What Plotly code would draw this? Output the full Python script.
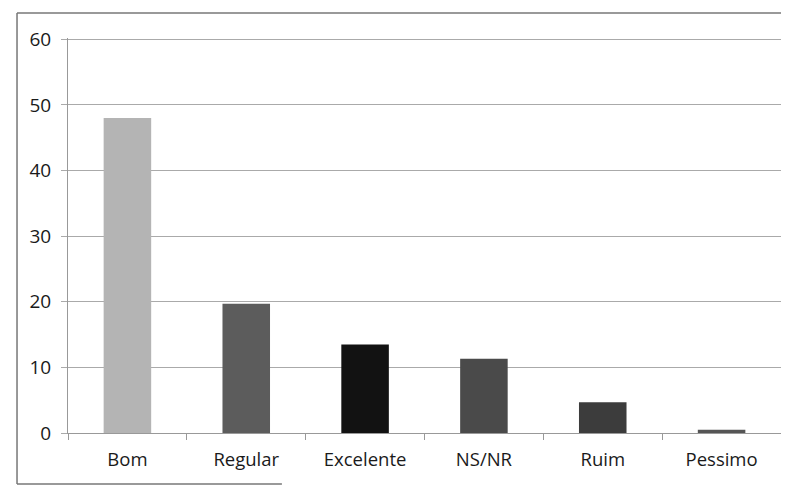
import plotly.graph_objects as go

categories = ["Bom", "Regular", "Excelente", "NS/NR", "Ruim", "Pessimo"]
values = [48, 19.7, 13.5, 11.3, 4.7, 0.5]
colors = ["#b4b4b4", "#5c5c5c", "#121212", "#4a4a4a", "#3c3c3c", "#555555"]
y_ticks = [0, 10, 20, 30, 40, 50, 60]

fig = go.Figure(go.Bar(x=categories, y=values, marker_color=colors,
                       marker_line_width=0, width=0.4))

frame = dict(color="#777", width=1.5)
fig.update_layout(
    width=781, height=478,
    margin=dict(l=60, r=8, t=30, b=53),
    paper_bgcolor="white", plot_bgcolor="white",
    font=dict(family="Open Sans, Liberation Sans, sans-serif", size=18, color="#1a1a1a"),
    showlegend=False,
    xaxis=dict(showgrid=False, showline=True, linecolor="#999", linewidth=1,
               ticks="outside", tickson="boundaries", ticklen=6, tickcolor="#999",
               tickfont=dict(size=18.5), ticklabelstandoff=10),
    yaxis=dict(range=[0, 60.2], tickvals=y_ticks, showgrid=True, gridcolor="#aaaaaa",
               gridwidth=1, showline=True, linecolor="#999", ticks="outside",
               ticklen=6, tickcolor="#aaa", zeroline=False, tickfont=dict(size=19),
               ticklabelstandoff=6),
    shapes=[
        dict(type="line", xref="paper", yref="paper", x0=-0.0715, x1=1.012,
             y0=1.063, y1=1.063, line=frame),
        dict(type="line", xref="paper", yref="paper", x0=-0.0715, x1=-0.0715,
             y0=-0.129, y1=1.063, line=frame),
        dict(type="line", xref="paper", yref="paper", x0=-0.0715, x1=0.3,
             y0=-0.129, y1=-0.129, line=frame),
    ],
)

fig.write_html("out.html", config={"displayModeBar": False})
